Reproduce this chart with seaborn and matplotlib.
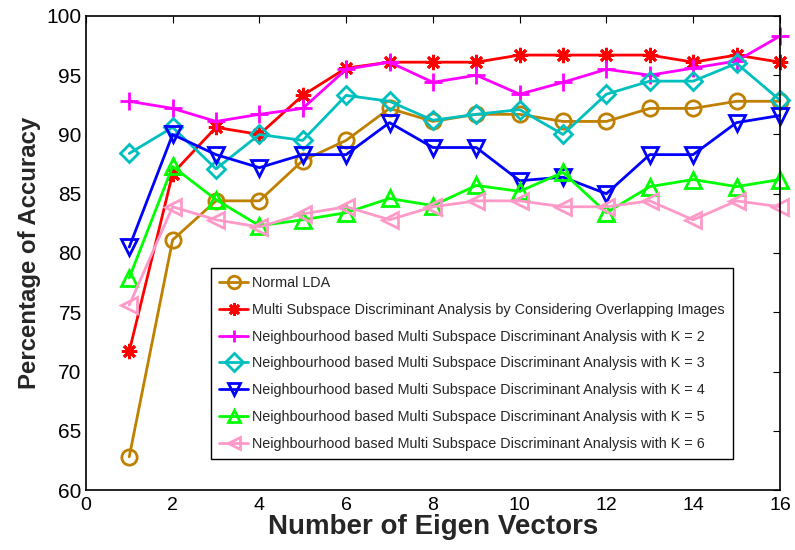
# Accuracy vs number of eigen vectors, LDA variants
import numpy as np
import matplotlib
matplotlib.use("Agg")
import matplotlib.pyplot as plt
from matplotlib import font_manager
import seaborn as sns

# ------------------------------------------
# Data
# ------------------------------------------
eigen_vectors = list(range(1, 17))

normal_lda = [62.8, 81.1, 84.4, 84.4, 87.8, 89.5, 92.2, 91.1, 91.7, 91.7,
              91.1, 91.1, 92.2, 92.2, 92.8, 92.8]
msda_overlap = [71.7, 86.7, 90.6, 90.0, 93.3, 95.6, 96.1, 96.1, 96.1, 96.7,
                96.7, 96.7, 96.7, 96.1, 96.7, 96.1]
nmsda_k2 = [92.8, 92.2, 91.1, 91.7, 92.2, 95.5, 96.1, 94.4, 95.0, 93.4,
            94.4, 95.5, 95.0, 95.6, 96.2, 98.3]
nmsda_k3 = [88.4, 90.6, 87.1, 90.0, 89.5, 93.3, 92.8, 91.2, 91.7, 92.1,
            90.0, 93.4, 94.5, 94.5, 96.0, 92.9]
nmsda_k4 = [80.5, 90.0, 88.3, 87.2, 88.3, 88.3, 91.0, 88.9, 88.9, 86.1,
            86.4, 85.0, 88.3, 88.3, 91.0, 91.6]
nmsda_k5 = [77.9, 87.3, 84.5, 82.3, 82.8, 83.4, 84.6, 84.0, 85.7, 85.2,
            86.8, 83.4, 85.6, 86.2, 85.6, 86.2]
nmsda_k6 = [75.6, 83.9, 82.8, 82.2, 83.3, 83.9, 82.8, 83.9, 84.4, 84.4,
            83.9, 83.9, 84.4, 82.8, 84.4, 83.9]

series_names = [
    "Normal LDA",
    "Multi Subspace Discriminant Analysis by Considering Overlapping Images",
    "Neighbourhood based Multi Subspace Discriminant Analysis with K = 2",
    "Neighbourhood based Multi Subspace Discriminant Analysis with K = 3",
    "Neighbourhood based Multi Subspace Discriminant Analysis with K = 4",
    "Neighbourhood based Multi Subspace Discriminant Analysis with K = 5",
    "Neighbourhood based Multi Subspace Discriminant Analysis with K = 6",
]
series_values = [normal_lda, msda_overlap, nmsda_k2, nmsda_k3,
                 nmsda_k4, nmsda_k5, nmsda_k6]
colors = ["#BF8000", "#FF0000", "#FF00FF", "#00BFBF",
          "#0000FF", "#00FF00", "#FF99C8"]
markers = ["o", (8, 2, 0), "+", "D", "v", "^", "<"]
marker_sizes = [11, 11, 13, 9, 11, 11, 11]

# ------------------------------------------
# Fonts
# ------------------------------------------
sns.set_style("white")
plt.rcParams["font.family"] = ["Liberation Sans", "DejaVu Sans"]

try:
    font_manager.findfont("Liberation Sans Narrow", fallback_to_default=False)
    xtick_family, xtick_size = "Liberation Sans Narrow", 16
except ValueError:
    xtick_family, xtick_size = "Liberation Sans", 14

# ------------------------------------------
# Plot
# ------------------------------------------
fig = plt.figure(figsize=(7.95, 5.5), dpi=100)
ax = fig.add_axes([0.108, 0.109, 0.873, 0.862])

for name, vals, col, mk, ms in zip(series_names, series_values, colors,
                                   markers, marker_sizes):
    sns.lineplot(
        x=eigen_vectors,
        y=vals,
        color=col,
        marker=mk,
        markersize=ms,
        markerfacecolor="none",
        markeredgecolor=col,
        markeredgewidth=2,
        linewidth=2,
        label=name,
        clip_on=False,
        ax=ax,
    )

ax.set_xlim(0, 16)
ax.set_ylim(60, 100)
ax.set_xticks(np.arange(0, 17, 2))
ax.set_yticks(np.arange(60, 101, 5))
ax.tick_params(direction="in", length=5, width=0.8, top=True, right=True,
               colors="black", pad=3)
ax.tick_params(axis="y", labelsize=15)
ax.tick_params(axis="x", labelsize=xtick_size, pad=5)
for lab in ax.get_xticklabels():
    lab.set_family(xtick_family)
for sp in ax.spines.values():
    sp.set_color("black")
    sp.set_linewidth(1.2)

ax.set_xlabel("Number of Eigen Vectors", fontsize=20, fontweight="bold",
              labelpad=0)
ax.set_ylabel("Percentage of Accuracy", fontsize=17.3, fontweight="bold",
              labelpad=4)

leg = ax.legend(
    loc="lower left",
    bbox_to_anchor=(0.18, 0.065),
    fontsize=10.4,
    frameon=True,
    fancybox=False,
    edgecolor="black",
    framealpha=1,
    labelspacing=0.88,
    handlelength=2.0,
    handletextpad=0.25,
    borderpad=0.6,
    borderaxespad=0,
)
leg.get_frame().set_linewidth(1)
for h in leg.legend_handles:
    h.set_markersize(9)

fig.savefig("out.png", dpi=100)
